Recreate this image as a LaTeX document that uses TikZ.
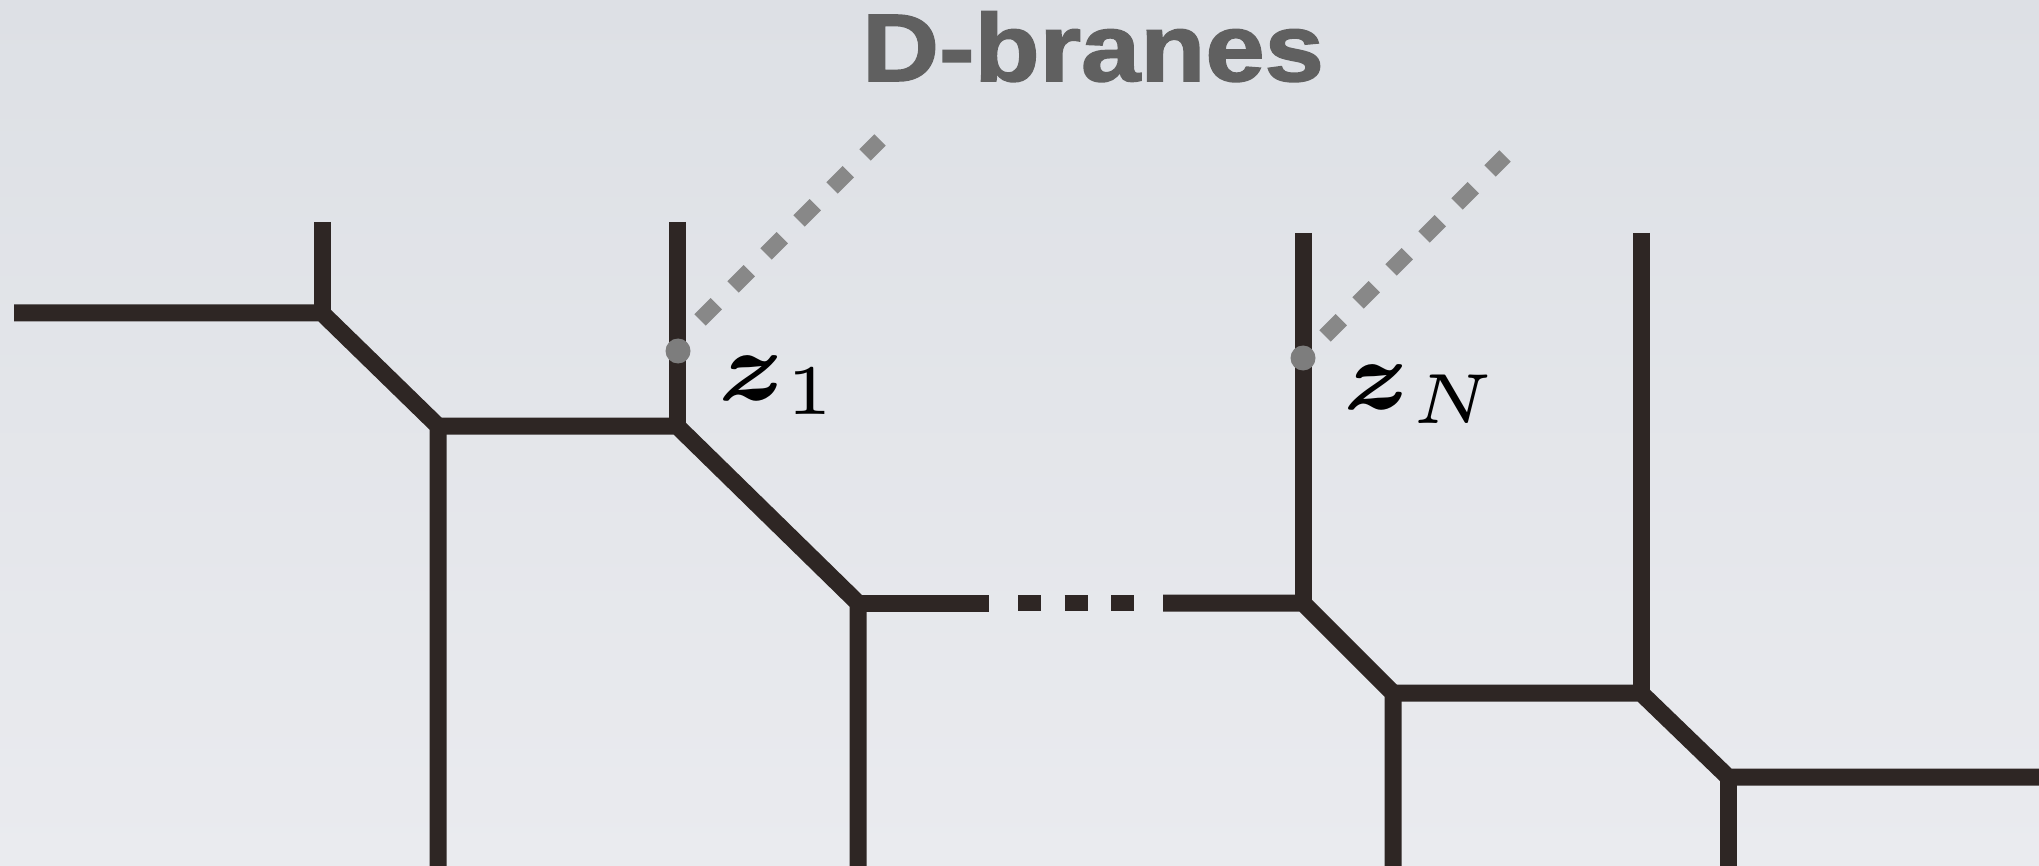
\documentclass[tikz,border=0pt]{standalone}
\usepackage{graphicx}
\usepackage{fontspec}
\newfontfamily\titlefont[FakeBold=1.6]{Liberation Sans}
\definecolor{bgtop}{RGB}{221,224,229}
\definecolor{bgbot}{RGB}{234,235,239}
\definecolor{brane}{RGB}{46,38,36}
\definecolor{titlegray}{RGB}{96,96,96}
\definecolor{markgray}{RGB}{125,125,125}
\definecolor{dashgray}{RGB}{136,136,136}
\tikzset{
  web/.style={draw=brane, line width=17pt, line join=miter, line cap=butt},
  webdots/.style={draw=brane, line width=16pt, dash pattern=on 23pt off 23.5pt},
  dbrane/.style={draw=dashgray, line width=16pt, dash pattern=on 23pt off 23.7pt},
  puncture/.style={circle, fill=markgray, inner sep=0pt, minimum size=25pt},
  zlabel/.style={anchor=base west, inner sep=0pt, text=black},
}
% enlarged labels with a heavier z
\newcommand{\biglabel}[1]{\scalebox{14.2}{\fontsize{7}{8}\selectfont$\mbox{\boldmath$z$}_{#1}$}}
\begin{document}
\begin{tikzpicture}[x=1pt, y=-1pt]
  % page and background
  \useasboundingbox (0,0) rectangle (2039,866);
  \shade[top color=bgtop, bottom color=bgbot] (0,0) rectangle (2039,866);

  % title
  \node[anchor=base, inner sep=0pt, text=titlegray,
        font=\titlefont\bfseries\fontsize{96}{96}\selectfont] (title) at (1093,81)
        {\scalebox{1.11}[1]{D-branes}};

  % vertices of the web
  \coordinate (v1) at (322,313);
  \coordinate (v2) at (438,426);
  \coordinate (v3) at (677,426);
  \coordinate (v4) at (858,603);
  \coordinate (v5) at (1303,603);
  \coordinate (v6) at (1393,693);
  \coordinate (v7) at (1641,693);
  \coordinate (v8) at (1728,777);

  % external legs
  \coordinate (l0) at (14,313);
  \coordinate (u1) at (322,222);
  \coordinate (d2) at (438,866);
  \coordinate (u3) at (677,222);
  \coordinate (d4) at (858,866);
  \coordinate (g1) at (989,603);
  \coordinate (g2) at (1018,603);
  \coordinate (g3) at (1135,603);
  \coordinate (g4) at (1163,603);
  \coordinate (u5) at (1303,233);
  \coordinate (d6) at (1393,866);
  \coordinate (u7) at (1641,233);
  \coordinate (d8) at (1728,866);
  \coordinate (r8) at (2039,777);

  % brane web
  \draw[web] (l0) -- (v1) -- (v2) -- (d2);
  \draw[web] (u1) -- (v1);
  \draw[web] (v2) -- (v3) -- (v4) -- (d4);
  \draw[web] (u3) -- (v3);
  \draw[web] (v4) -- (g1);
  \draw[webdots] (g2) -- (g3);
  \draw[web] (g4) -- (v5) -- (v6) -- (d6);
  \draw[web] (u5) -- (v5);
  \draw[web] (v6) -- (v7) -- (v8) -- (r8);
  \draw[web] (u7) -- (v7);
  \draw[web] (v8) -- (d8);

  % D-branes ending on the legs
  \coordinate (a1) at (700,320);
  \coordinate (b1) at (880,140);
  \coordinate (aN) at (1325,336);
  \coordinate (bN) at (1505,156);
  \draw[dbrane] (a1) -- (b1);
  \draw[dbrane] (aN) -- (bN);

  % punctures and their labels
  \node[puncture] (p1) at (678,351) {};
  \node[puncture] (pN) at (1303,358) {};
  \node[zlabel] (z1) at (718,400) {\biglabel{1}};
  \node[zlabel] (zN) at (1343,409) {\biglabel{N}};
\end{tikzpicture}
\end{document}
